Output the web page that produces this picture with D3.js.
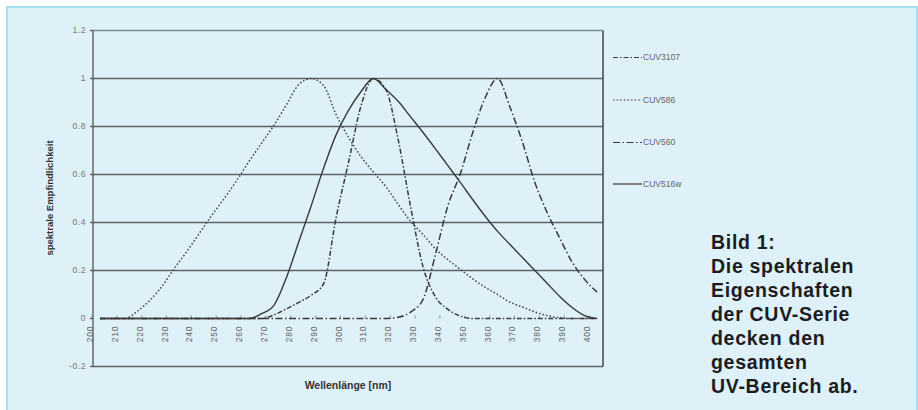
<!DOCTYPE html>
<html><head><meta charset="utf-8">
<script src="https://cdn.jsdelivr.net/npm/d3@7/dist/d3.min.js"></script>
<style>body{margin:0;background:#fff}svg{display:block}</style>
</head><body><svg id="c" width="918" height="410"></svg>
<script>
// ---- data ----
const wavelengths = [200,205,210,215,220,225,230,235,240,245,250,255,260,265,270,275,280,285,290,295,300,305,310,315,320,325,330,335,340,345,350,355,360,365,370,375,380,385,390,395,400];
const cuv3107 = [0,0,0,0,0,0,0,0,0,0,0,0,0,0,0.015,0.04,0.067,0.097,0.145,0.42,0.65,0.885,1.0,0.955,0.745,0.465,0.215,0.09,0.038,0.01,0,0,0,0,0,0,0,0,0,0,0];
const cuv586  = [0,0,0,0.03,0.075,0.135,0.21,0.28,0.355,0.43,0.5,0.575,0.655,0.73,0.805,0.89,0.975,1.0,0.97,0.85,0.755,0.675,0.61,0.55,0.475,0.405,0.35,0.29,0.245,0.205,0.165,0.13,0.1,0.068,0.048,0.027,0.012,0.003,0,0,0];
const cuv560  = [0,0,0,0,0,0,0,0,0,0,0,0,0,0,0,0,0,0,0,0,0,0,0,0,0.005,0.027,0.08,0.267,0.47,0.603,0.775,0.92,1.0,0.88,0.735,0.567,0.44,0.335,0.235,0.163,0.11];
const cuv516w = [0,0,0,0,0,0,0,0,0,0,0,0,0,0.02,0.055,0.17,0.32,0.47,0.627,0.765,0.867,0.945,1.0,0.955,0.905,0.84,0.775,0.707,0.637,0.567,0.495,0.426,0.363,0.308,0.254,0.2,0.146,0.092,0.046,0.012,0];
const seriesNames = ["CUV3107","CUV586","CUV560","CUV516w"];
const xTickLabels = [200,210,220,230,240,250,260,270,280,290,300,310,320,330,340,350,360,370,380,390,400];
const yTickValues = [-0.2,0,0.2,0.4,0.6,0.8,1,1.2];
const yTickLabels = ["-0.2","0","0.2","0.4","0.6","0.8","1","1.2"];
const xTitle = "Wellenlänge [nm]";
const yTitle = "spektrale Empfindlichkeit";
const caption = ["Bild 1:","Die spektralen","Eigenschaften","der CUV-Serie","decken den","gesamten","UV-Bereich ab."];

// ---- layout ----
const svg = d3.select("#c");
const plotL = 93, plotR = 603, plotT = 30.5, plotB = 366.5;
const x = d3.scaleLinear().domain([200,400]).range([100,597]);
const y = d3.scaleLinear().domain([-0.2,1.2]).range([plotB, plotT]);
const ink = "#3a3a3a";

// panel
svg.append("rect").attr("x",7).attr("y",7).attr("width",910).attr("height",410)
  .attr("fill","#def0f8").attr("stroke","#a6dfee").attr("stroke-width",2);

// gridlines
const g = svg.append("g");
yTickValues.filter(v => v !== 0).forEach(v => {
  g.append("line").attr("x1",plotL).attr("x2",plotR).attr("y1",y(v)).attr("y2",y(v))
    .attr("stroke", v===1.2 ? "#7d8c92" : "#5a6468").attr("stroke-width",1.3);
});
// plot frame (left axis + right border)
g.append("line").attr("x1",plotL).attr("x2",plotL).attr("y1",plotT).attr("y2",plotB).attr("stroke","#555").attr("stroke-width",1.3);
g.append("line").attr("x1",plotR).attr("x2",plotR).attr("y1",plotT).attr("y2",plotB).attr("stroke","#444").attr("stroke-width",1.5);

// y ticks & labels
yTickValues.forEach((v,i) => {
  g.append("line").attr("x1",plotL-3).attr("x2",plotL).attr("y1",y(v)).attr("y2",y(v)).attr("stroke","#555").attr("stroke-width",1.3);
  g.append("text").attr("x",86).attr("y",y(v)).attr("dy","0.35em").attr("text-anchor","end")
    .attr("font-family","Liberation Sans, Arial, sans-serif").attr("font-size",8.5).attr("letter-spacing",0.6)
    .attr("fill","#777").text(yTickLabels[i]);
});

// x tick labels (rotated) and small ticks on zero line
xTickLabels.forEach(v => {
  const px = x(v) - 10;
  g.append("line").attr("x1",x(v)-8).attr("x2",x(v)-8).attr("y1",y(0)-3).attr("y2",y(0)).attr("stroke","#777").attr("stroke-width",0.8);
  g.append("text").attr("transform",`translate(${px+3},334) rotate(-90)`).attr("text-anchor","middle")
    .attr("font-family","Liberation Sans, Arial, sans-serif").attr("font-size",8.5).attr("letter-spacing",0.8)
    .attr("fill","#666").text(v);
});

// series
const dashes = {"CUV3107":"5,2,1.5,2","CUV586":"1.6,2","CUV560":"7,2.5,1.5,2.5","CUV516w":null};
const seriesData = {"CUV3107":cuv3107,"CUV586":cuv586,"CUV560":cuv560,"CUV516w":cuv516w};
const line = d3.line().x((d,i)=>x(wavelengths[i])).y(d=>y(d)).curve(d3.curveMonotoneX);
["CUV586","CUV560","CUV3107","CUV516w"].forEach(n => {
  g.append("path").attr("d", line(seriesData[n])).attr("fill","none")
    .attr("stroke", n==="CUV586" ? "#4a4a4a" : ink).attr("stroke-width", n==="CUV516w"?1.4:1.5)
    .attr("stroke-dasharray", dashes[n]);
});

// legend
const legY = [57.5, 100, 142.5, 184];
seriesNames.forEach((n,i) => {
  g.append("line").attr("x1",613).attr("x2",642).attr("y1",legY[i]).attr("y2",legY[i])
    .attr("stroke",ink).attr("stroke-width",1.2).attr("stroke-dasharray",dashes[n]);
  g.append("text").attr("x",643).attr("y",legY[i]).attr("dy","0.35em")
    .attr("font-family","Liberation Sans, Arial, sans-serif").attr("font-size",8.5)
    .attr("fill","#666").text(n);
});

// axis titles
svg.append("text").attr("x",348).attr("y",389).attr("text-anchor","middle")
  .attr("font-family","Liberation Sans, Arial, sans-serif").attr("font-weight","bold").attr("font-size",10.5)
  .attr("fill","#333").text(xTitle);
svg.append("text").attr("transform","translate(53,198) rotate(-90)").attr("text-anchor","middle")
  .attr("font-family","Liberation Sans, Arial, sans-serif").attr("font-weight","bold").attr("font-size",9.5)
  .attr("fill","#333").text(yTitle);

// caption
const cap = svg.append("text").attr("font-family","Liberation Sans, Arial, sans-serif")
  .attr("font-weight","bold").attr("font-size",19.5).attr("letter-spacing",0.7).attr("fill","#1c1c1c");
caption.forEach((t,i) => cap.append("tspan").attr("x",711).attr("y",248.5 + i*24.05).text(t));
</script>
</body></html>
